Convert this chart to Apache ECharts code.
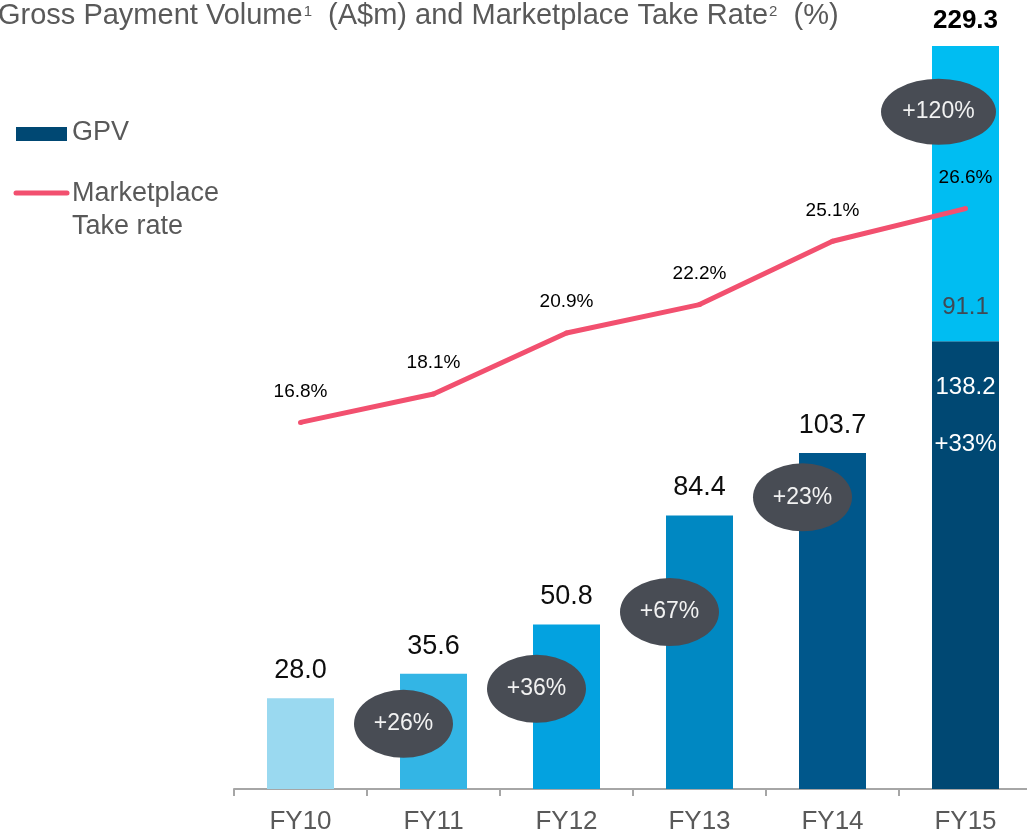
<!DOCTYPE html>
<html>
<head>
<meta charset="utf-8">
<script src="https://cdn.jsdelivr.net/npm/echarts@6/dist/echarts.min.js"></script>
<style>
html,body{margin:0;padding:0;background:#fff;}
#chart{width:1027px;height:831px;}
</style>
</head>
<body>
<div id="chart"></div>
<script>
// ---- data ----
const categories = ['FY10', 'FY11', 'FY12', 'FY13', 'FY14', 'FY15'];
const gpv = [28.0, 35.6, 50.8, 84.4, 103.7, 138.2];
const gpvFy15Extra = [null, null, null, null, null, 91.1];
const gpvTotal = [null, null, null, null, null, 229.3];
const takeRate = [16.8, 18.1, 20.9, 22.2, 25.1, 26.6];
const growthCategory = ['FY11', 'FY12', 'FY13', 'FY14', 'FY15'];
const growthLabels = ['+26%', '+36%', '+67%', '+23%', '+120%'];
const growthAnchor = [20.1, 30.9, 54.6, 90.0, 209.0];
const fy15BaseGrowth = '+33%';

// ---- styles ----
const barColors = ['#9ad9f0', '#33b5e5', '#03a2e0', '#0088c2', '#00578b', '#004873'];
const extraColor = '#00bdf2';
const lineColor = '#f2506f';
const bubbleColor = '#484c54';
const textGray = '#595959';
const font = 'Liberation Sans, Arial, sans-serif';

const chart = echarts.init(document.getElementById('chart'));

const baseData = gpv.map((v, i) => {
  const item = { value: v, itemStyle: { color: barColors[i] } };
  if (i === categories.length - 1) {
    item.label = {
      show: true,
      position: 'insideTop',
      distance: 18,
      formatter: '{a|' + v.toFixed(1) + '}\n{a|' + fy15BaseGrowth + '}',
      rich: { a: { fontSize: 24, color: '#ffffff', lineHeight: 57, fontFamily: font } }
    };
  }
  return item;
});

const option = {
  backgroundColor: '#ffffff',
  animation: false,
  textStyle: { fontFamily: font },
  title: {
    left: -2,
    top: 0,
    padding: 0,
    text: '{t|Gross Payment Volume}{s|1}{t|  (A$m) and Marketplace Take Rate}{s|2}{t|  (%)}',
    textStyle: {
      fontWeight: 'normal',
      rich: {
        t: { fontSize: 29, fontWeight: 'normal', color: textGray, fontFamily: font, lineHeight: 32 },
        s: { fontSize: 15, fontWeight: 'normal', color: textGray, fontFamily: font, verticalAlign: 'top', lineHeight: 32, padding: [4, 0, 0, 1] }
      }
    }
  },
  grid: { left: 234, top: 46, width: 798, height: 743, outerBoundsMode: 'none', containLabel: false },
  xAxis: {
    type: 'category',
    data: categories,
    axisLine: { lineStyle: { color: '#a6a6a6', width: 2 } },
    axisTick: { show: true, length: 7, lineStyle: { color: '#a6a6a6', width: 2 } },
    axisLabel: { fontSize: 26, color: textGray, margin: 20, fontFamily: font },
    splitLine: { show: false }
  },
  yAxis: [
    { type: 'value', min: 0, max: 229.3, show: false, splitLine: { show: false } },
    { type: 'value', min: 0, max: 34.05, show: false, splitLine: { show: false } }
  ],
  graphic: [
    { type: 'rect', left: 16, top: 127, shape: { width: 51, height: 14 }, style: { fill: barColors[5] } },
    { type: 'text', left: 72, top: 119, style: { text: 'GPV', fontSize: 27, fill: textGray, fontFamily: font } },
    { type: 'line', shape: { x1: 16, y1: 193, x2: 67, y2: 193 }, style: { stroke: lineColor, lineWidth: 5, lineCap: 'round' } },
    { type: 'text', left: 72, top: 177, style: { text: 'Marketplace\nTake rate', fontSize: 27, lineHeight: 33, fill: textGray, fontFamily: font } }
  ],
  series: [
    {
      name: 'GPV',
      type: 'bar',
      stack: 'gpv',
      barWidth: 67,
      data: baseData,
      label: {
        show: true,
        position: 'top',
        distance: 14,
        fontSize: 27,
        color: '#0d0d0d',
        fontFamily: font,
        formatter: p => p.value.toFixed(1)
      },
      z: 2
    },
    {
      name: 'GPV FY15 extra',
      type: 'bar',
      stack: 'gpv',
      barWidth: 67,
      itemStyle: { color: extraColor },
      data: gpvFy15Extra,
      label: {
        show: true,
        position: 'insideBottom',
        distance: 22,
        fontSize: 24,
        color: '#3f4a55',
        fontFamily: font,
        formatter: p => (p.value == null ? '' : p.value.toFixed(1))
      },
      z: 2
    },
    {
      name: 'Total',
      type: 'bar',
      stack: 'gpv',
      barWidth: 67,
      itemStyle: { color: 'rgba(0,0,0,0)' },
      data: gpvTotal.map(v => (v == null ? null : 0)),
      label: {
        show: true,
        position: 'top',
        distance: 12,
        fontSize: 26,
        fontWeight: 'bold',
        color: '#000000',
        fontFamily: font,
        formatter: p => (gpvTotal[p.dataIndex] == null ? '' : gpvTotal[p.dataIndex].toFixed(1))
      },
      z: 2
    },
    {
      name: 'Marketplace Take rate',
      type: 'line',
      yAxisIndex: 1,
      data: takeRate,
      symbol: 'circle',
      symbolSize: 5,
      itemStyle: { color: lineColor },
      lineStyle: { color: lineColor, width: 5 },
      label: {
        show: true,
        position: 'top',
        distance: 19,
        fontSize: 19,
        color: '#000000',
        fontFamily: font,
        formatter: p => p.value.toFixed(1) + '%'
      },
      z: 3
    },
    {
      name: 'Growth',
      type: 'scatter',
      yAxisIndex: 0,
      data: growthCategory.map((c, i) => ({
        value: [c, growthAnchor[i]],
        symbolSize: i === growthCategory.length - 1 ? [115, 66] : [99, 68],
        symbolOffset: i === growthCategory.length - 1 ? [-27, 0] : [-30, 0]
      })),
      symbol: 'circle',
      itemStyle: { color: bubbleColor, opacity: 1 },
      label: {
        show: true,
        position: 'inside',
        fontSize: 23,
        color: '#f2f2f2',
        fontFamily: font,
        formatter: p => growthLabels[p.dataIndex]
      },
      z: 4
    }
  ]
};

chart.setOption(option);
</script>
</body>
</html>
